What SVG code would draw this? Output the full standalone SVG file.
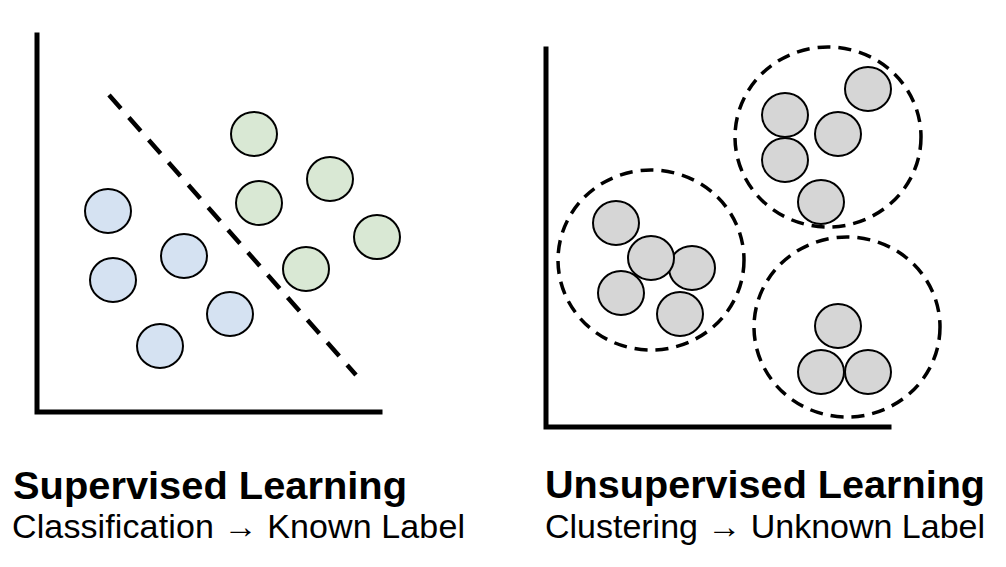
<svg xmlns="http://www.w3.org/2000/svg" width="1006" height="567" viewBox="0 0 1006 567">
<style>
.axis{fill:none;stroke:#000;stroke-width:5;stroke-linecap:square}
.pt{stroke:#000;stroke-width:2}
.blue{fill:#d5e2f2}
.green{fill:#d9e8d4}
.gray{fill:#d6d6d6}
.cluster{fill:none;stroke:#000;stroke-width:3.5;stroke-dasharray:13 8}
.sep{fill:none;stroke:#000;stroke-width:4.5;stroke-dasharray:18 12}
.title{font-family:"Liberation Sans",Arial,sans-serif;font-weight:bold;font-size:38px;fill:#000}
.sub{font-family:"Liberation Sans",Arial,sans-serif;font-size:34px;fill:#000}
</style>
<rect width="1006" height="567" fill="#fff"/>
<g id="supervised">
  <g id="sup-axes"><path class="axis" d="M37,35 V412 H380"/></g>
  <g id="connectors"><line class="sep" x1="109" y1="95" x2="356" y2="375"/></g>
  <g id="sup-green">
    <ellipse class="pt green" cx="254" cy="134" rx="23" ry="22"/>
    <ellipse class="pt green" cx="330" cy="179" rx="23" ry="22"/>
    <ellipse class="pt green" cx="259" cy="203" rx="23" ry="22"/>
    <ellipse class="pt green" cx="377" cy="237" rx="23" ry="22"/>
    <ellipse class="pt green" cx="306" cy="269" rx="23" ry="22"/>
  </g>
  <g id="sup-blue">
    <ellipse class="pt blue" cx="108" cy="211" rx="23" ry="22"/>
    <ellipse class="pt blue" cx="184" cy="256" rx="23" ry="22"/>
    <ellipse class="pt blue" cx="113" cy="280" rx="23" ry="22"/>
    <ellipse class="pt blue" cx="230" cy="314" rx="23" ry="22"/>
    <ellipse class="pt blue" cx="160" cy="346" rx="23" ry="22"/>
  </g>
  <g id="sup-label">
    <text class="title" x="13" y="499" textLength="394" lengthAdjust="spacingAndGlyphs">Supervised Learning</text>
    <text class="sub" x="12" y="538" textLength="453" lengthAdjust="spacing">Classification → Known Label</text>
  </g>
</g>
<g id="unsupervised">
  <g id="unsup-axes"><path class="axis" d="M546,49 V427 H889"/></g>
  <g id="cluster-top">
    <ellipse class="cluster" cx="828" cy="137" rx="93" ry="90"/>
    <ellipse class="pt gray" cx="868" cy="89" rx="23" ry="22"/>
    <ellipse class="pt gray" cx="785" cy="115" rx="23" ry="22"/>
    <ellipse class="pt gray" cx="838" cy="134" rx="23" ry="22"/>
    <ellipse class="pt gray" cx="785" cy="160" rx="23" ry="22"/>
    <ellipse class="pt gray" cx="821" cy="202" rx="23" ry="22"/>
  </g>
  <g id="cluster-left">
    <ellipse class="cluster" cx="651" cy="260" rx="93" ry="90"/>
    <ellipse class="pt gray" cx="616" cy="223" rx="23" ry="22"/>
    <ellipse class="pt gray" cx="692" cy="268" rx="23" ry="22"/>
    <ellipse class="pt gray" cx="651" cy="258" rx="23" ry="22"/>
    <ellipse class="pt gray" cx="621" cy="293" rx="23" ry="22"/>
    <ellipse class="pt gray" cx="680" cy="314" rx="23" ry="22"/>
  </g>
  <g id="cluster-bottom">
    <ellipse class="cluster" cx="847" cy="327" rx="93" ry="90"/>
    <ellipse class="pt gray" cx="838" cy="326" rx="23" ry="22"/>
    <ellipse class="pt gray" cx="821" cy="372" rx="23" ry="22"/>
    <ellipse class="pt gray" cx="868" cy="372" rx="23" ry="22"/>
  </g>
  <g id="unsup-label">
    <text class="title" x="545" y="498" textLength="440" lengthAdjust="spacingAndGlyphs">Unsupervised Learning</text>
    <text class="sub" x="545" y="538" textLength="440" lengthAdjust="spacing">Clustering → Unknown Label</text>
  </g>
</g>
</svg>
